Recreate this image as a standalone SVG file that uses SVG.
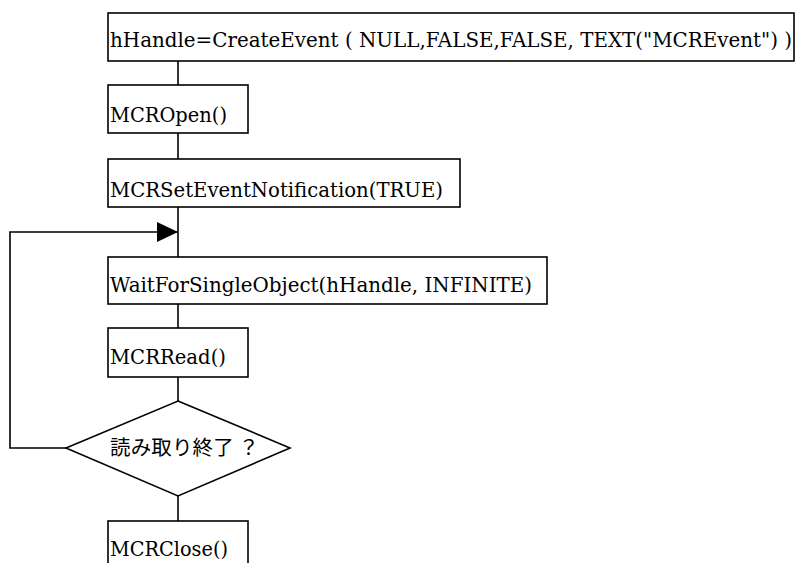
<svg xmlns="http://www.w3.org/2000/svg" width="797" height="563" viewBox="0 0 797 563">
  <style>
    .box { fill: #fff; stroke: #000; stroke-width: 1.6; }
    .line { fill: none; stroke: #000; stroke-width: 1.6; }
    .lbl { font-family: 'DejaVu Serif', 'Liberation Serif', serif; font-size: 21px; fill: #000; }
    .jp { font-family: 'Noto Sans CJK JP', sans-serif; font-size: 20.5px; fill: #000; }
  </style>
  <defs>
    <marker id="arrow" viewBox="0 0 21 20" refX="21" refY="10" markerWidth="21" markerHeight="20" markerUnits="userSpaceOnUse" orient="auto">
      <path d="M0,0 L21,10 L0,20 Z" fill="#000"/>
    </marker>
  </defs>
  <rect width="797" height="563" fill="#fff"/>

  <!-- connectors -->
  <g id="connectors">
    <line class="line" x1="178" y1="61" x2="178" y2="85"/>
    <line class="line" x1="178" y1="133" x2="178" y2="159"/>
    <line class="line" x1="178" y1="207" x2="178" y2="257"/>
    <line class="line" x1="178" y1="304" x2="178" y2="328"/>
    <line class="line" x1="178" y1="377" x2="178" y2="401"/>
    <line class="line" x1="178" y1="496" x2="178" y2="521"/>
    <!-- loop back from the decision to the wait -->
    <path class="line" d="M66,448 H10 V232 H178" marker-end="url(#arrow)"/>
  </g>

  <g id="create-event">
    <rect class="box" x="108" y="13" width="686" height="48"/>
    <text class="lbl" x="110" y="47" textLength="682" lengthAdjust="spacingAndGlyphs">hHandle=CreateEvent ( NULL,FALSE,FALSE, TEXT("MCREvent") )</text>
  </g>

  <g id="mcr-open">
    <rect class="box" x="108" y="85" width="140" height="48"/>
    <text class="lbl" x="110" y="122" textLength="117" lengthAdjust="spacingAndGlyphs">MCROpen()</text>
  </g>

  <g id="set-notification">
    <rect class="box" x="108" y="159" width="352" height="48"/>
    <text class="lbl" x="110" y="197" textLength="333" lengthAdjust="spacingAndGlyphs">MCRSetEventNotification(TRUE)</text>
  </g>

  <g id="wait-object">
    <rect class="box" x="108" y="257" width="439" height="47"/>
    <text class="lbl" x="110" y="292" textLength="422" lengthAdjust="spacingAndGlyphs">WaitForSingleObject(hHandle, INFINITE)</text>
  </g>

  <g id="mcr-read">
    <rect class="box" x="108" y="328" width="140" height="49"/>
    <text class="lbl" x="110" y="364" textLength="116" lengthAdjust="spacingAndGlyphs">MCRRead()</text>
  </g>

  <g id="read-done">
    <polygon class="box" points="178,401 290,448 178,496 66,448"/>
    <text class="jp" x="110" y="455" textLength="149" lengthAdjust="spacing">読み取り終了 ？</text>
  </g>

  <g id="mcr-close">
    <rect class="box" x="108" y="521" width="140" height="60"/>
    <text class="lbl" x="110" y="556" textLength="118" lengthAdjust="spacingAndGlyphs">MCRClose()</text>
  </g>
</svg>
